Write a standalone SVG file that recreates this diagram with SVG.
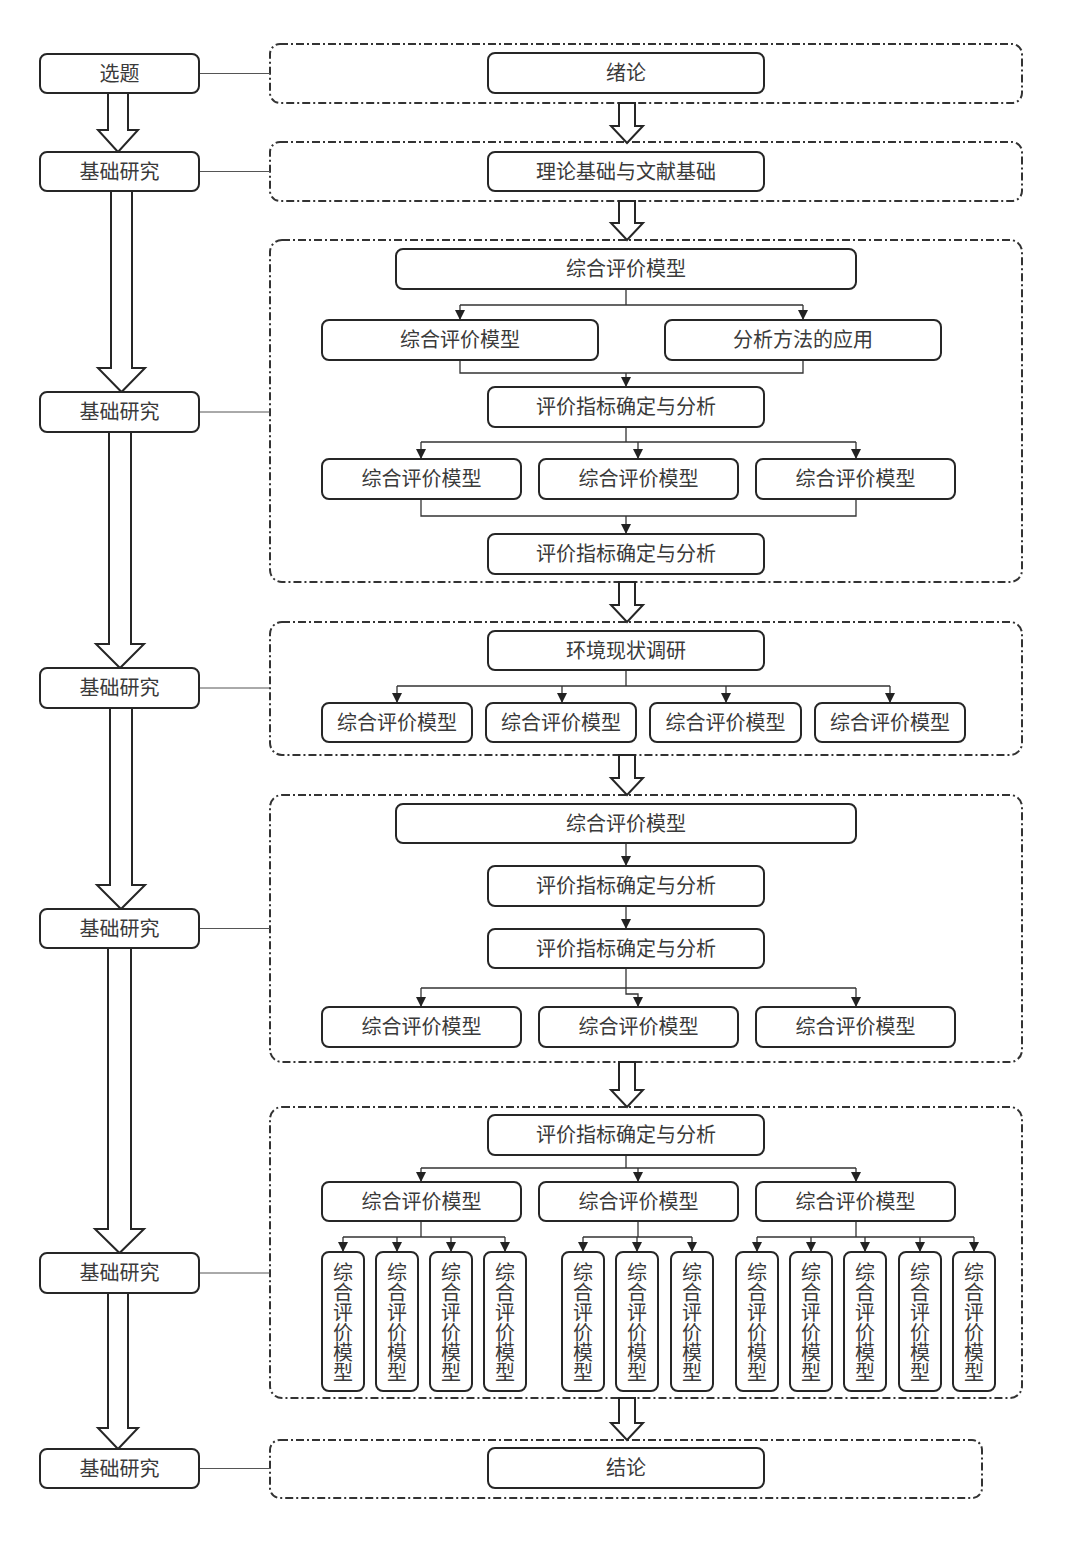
<svg xmlns="http://www.w3.org/2000/svg" width="1080" height="1559" viewBox="0 0 1080 1559">
<defs>
<style>
.box{fill:#fff;stroke:#262626;stroke-width:2;}
.frame{fill:none;stroke:#333;stroke-width:2;stroke-dasharray:8 3 2 3;}
.t{font-family:"Liberation Serif","Noto Sans CJK SC",serif;font-size:20px;fill:#3a3a3a;text-anchor:middle;dominant-baseline:central;}
.c{fill:none;stroke:#333;stroke-width:1.3;}
.link{fill:none;stroke:#555;stroke-width:1;}
.ha{fill:#fff;stroke:#262626;stroke-width:2;stroke-linejoin:miter;}
</style>
<marker id="ah" viewBox="0 0 10 10" refX="10" refY="5" markerWidth="11" markerHeight="10" markerUnits="userSpaceOnUse" orient="auto">
<path d="M0,0 L10,5 L0,10 Z" fill="#222"/>
</marker>
</defs>
<rect width="1080" height="1559" fill="#fff"/>

<g id="frames">
<rect class="frame" x="270" y="44" width="752" height="59" rx="10"/>
<rect class="frame" x="270" y="142" width="752" height="59" rx="10"/>
<rect class="frame" x="270" y="240" width="752" height="342" rx="12"/>
<rect class="frame" x="270" y="622" width="752" height="133" rx="12"/>
<rect class="frame" x="270" y="795" width="752" height="267" rx="12"/>
<rect class="frame" x="270" y="1107" width="752" height="291" rx="12"/>
<rect class="frame" x="270" y="1440" width="712" height="58" rx="10"/>
</g>

<g id="connectors">
<path class="link" d="M199,73.5 H270 M199,171.5 H270 M199,412 H270 M199,688 H270 M199,928.5 H270 M199,1273 H270 M199,1468.5 H270"/>
<path class="ha" d="M108,93 V130 H98 L118,152 L138,130 H128 V93 Z"/>
<path class="ha" d="M111,191 V368 H98 L121.5,392 L145,368 H132 V191 Z"/>
<path class="ha" d="M109,432 V644 H96 L120,668 L144,644 H131 V432 Z"/>
<path class="ha" d="M110,708 V885 H97 L121,909 L145,885 H132 V708 Z"/>
<path class="ha" d="M108,948 V1229 H95 L119.5,1253 L144,1229 H131 V948 Z"/>
<path class="ha" d="M108,1293 V1428 H98 L118,1449 L138,1428 H128 V1293 Z"/>
<path class="ha" d="M619,103 V126 H611 L627,143 L643,126 H635 V103 Z"/>
<path class="ha" d="M619,201 V223 H611 L627,240 L643,223 H635 V201 Z"/>
<path class="ha" d="M619,582 V605 H611 L627,622 L643,605 H635 V582 Z"/>
<path class="ha" d="M619,755 V778 H611 L627,795 L643,778 H635 V755 Z"/>
<path class="ha" d="M619,1062 V1090 H611 L627,1107 L643,1090 H635 V1062 Z"/>
<path class="ha" d="M619,1398 V1423 H611 L627,1440 L643,1423 H635 V1398 Z"/>

<path class="c" d="M626,289 V305 M460,305 H803"/>
<path class="c" d="M460,305 V320" marker-end="url(#ah)"/>
<path class="c" d="M803,305 V320" marker-end="url(#ah)"/>
<path class="c" d="M460,360 V373 H803 V360"/>
<path class="c" d="M626,373 V387" marker-end="url(#ah)"/>
<path class="c" d="M626,427 V442 M421,442 H856"/>
<path class="c" d="M421,442 V459" marker-end="url(#ah)"/>
<path class="c" d="M638,442 V459" marker-end="url(#ah)"/>
<path class="c" d="M856,442 V459" marker-end="url(#ah)"/>
<path class="c" d="M421,499 V516 H856 V499"/>
<path class="c" d="M626,516 V534" marker-end="url(#ah)"/>

<path class="c" d="M626,670 V686 M397,686 H890"/>
<path class="c" d="M397,686 V703" marker-end="url(#ah)"/>
<path class="c" d="M562,686 V703" marker-end="url(#ah)"/>
<path class="c" d="M726,686 V703" marker-end="url(#ah)"/>
<path class="c" d="M890,686 V703" marker-end="url(#ah)"/>

<path class="c" d="M626,843 V866" marker-end="url(#ah)"/>
<path class="c" d="M626,906 V929" marker-end="url(#ah)"/>
<path class="c" d="M421,988 H856"/>
<path class="c" d="M421,988 V1007" marker-end="url(#ah)"/>
<path class="c" d="M856,988 V1007" marker-end="url(#ah)"/>
<path class="c" d="M626,968 V994 H638 V1007" marker-end="url(#ah)"/>

<path class="c" d="M626,1155 V1168 M421,1168 H856"/>
<path class="c" d="M421,1168 V1182" marker-end="url(#ah)"/>
<path class="c" d="M638,1168 V1182" marker-end="url(#ah)"/>
<path class="c" d="M856,1168 V1182" marker-end="url(#ah)"/>
<path class="c" d="M421,1221 V1237 M343,1237 H505"/>
<path class="c" d="M343,1237 V1252" marker-end="url(#ah)"/>
<path class="c" d="M397,1237 V1252" marker-end="url(#ah)"/>
<path class="c" d="M451,1237 V1252" marker-end="url(#ah)"/>
<path class="c" d="M505,1237 V1252" marker-end="url(#ah)"/>
<path class="c" d="M638,1221 V1237 M583,1237 H692"/>
<path class="c" d="M583,1237 V1252" marker-end="url(#ah)"/>
<path class="c" d="M637,1237 V1252" marker-end="url(#ah)"/>
<path class="c" d="M692,1237 V1252" marker-end="url(#ah)"/>
<path class="c" d="M856,1221 V1237 M757,1237 H974"/>
<path class="c" d="M757,1237 V1252" marker-end="url(#ah)"/>
<path class="c" d="M811,1237 V1252" marker-end="url(#ah)"/>
<path class="c" d="M865,1237 V1252" marker-end="url(#ah)"/>
<path class="c" d="M920,1237 V1252" marker-end="url(#ah)"/>
<path class="c" d="M974,1237 V1252" marker-end="url(#ah)"/>
</g>

<g id="L1"><rect class="box" x="40" y="54" width="159" height="39" rx="7"/><text class="t" x="119.5" y="73.5">选题</text></g>
<g id="L2"><rect class="box" x="40" y="152" width="159" height="39" rx="7"/><text class="t" x="119.5" y="171.5">基础研究</text></g>
<g id="L3"><rect class="box" x="40" y="392" width="159" height="40" rx="7"/><text class="t" x="119.5" y="412">基础研究</text></g>
<g id="L4"><rect class="box" x="40" y="668" width="159" height="40" rx="7"/><text class="t" x="119.5" y="688">基础研究</text></g>
<g id="L5"><rect class="box" x="40" y="909" width="159" height="39" rx="7"/><text class="t" x="119.5" y="928.5">基础研究</text></g>
<g id="L6"><rect class="box" x="40" y="1253" width="159" height="40" rx="7"/><text class="t" x="119.5" y="1273">基础研究</text></g>
<g id="L7"><rect class="box" x="40" y="1449" width="159" height="39" rx="7"/><text class="t" x="119.5" y="1468.5">基础研究</text></g>

<g id="n_xulun"><rect class="box" x="488" y="53" width="276" height="40" rx="7"/><text class="t" x="626" y="73">绪论</text></g>
<g id="n_lilun"><rect class="box" x="488" y="152" width="276" height="39" rx="7"/><text class="t" x="626" y="171.5">理论基础与文献基础</text></g>

<g id="n3_top"><rect class="box" x="396" y="249" width="460" height="40" rx="7"/><text class="t" x="626" y="269">综合评价模型</text></g>
<g id="n3_a"><rect class="box" x="322" y="320" width="276" height="40" rx="7"/><text class="t" x="460" y="340">综合评价模型</text></g>
<g id="n3_b"><rect class="box" x="665" y="320" width="276" height="40" rx="7"/><text class="t" x="803" y="340">分析方法的应用</text></g>
<g id="n3_mid"><rect class="box" x="488" y="387" width="276" height="40" rx="7"/><text class="t" x="626" y="407">评价指标确定与分析</text></g>
<g id="n3_c1"><rect class="box" x="322" y="459" width="199" height="40" rx="7"/><text class="t" x="421.5" y="479">综合评价模型</text></g>
<g id="n3_c2"><rect class="box" x="539" y="459" width="199" height="40" rx="7"/><text class="t" x="638.5" y="479">综合评价模型</text></g>
<g id="n3_c3"><rect class="box" x="756" y="459" width="199" height="40" rx="7"/><text class="t" x="855.5" y="479">综合评价模型</text></g>
<g id="n3_bot"><rect class="box" x="488" y="534" width="276" height="40" rx="7"/><text class="t" x="626" y="554">评价指标确定与分析</text></g>

<g id="n4_top"><rect class="box" x="488" y="631" width="276" height="39" rx="7"/><text class="t" x="626" y="650.5">环境现状调研</text></g>
<g id="n4_1"><rect class="box" x="322" y="703" width="150" height="39" rx="7"/><text class="t" x="397" y="722.5">综合评价模型</text></g>
<g id="n4_2"><rect class="box" x="486" y="703" width="150" height="39" rx="7"/><text class="t" x="561" y="722.5">综合评价模型</text></g>
<g id="n4_3"><rect class="box" x="650" y="703" width="151" height="39" rx="7"/><text class="t" x="725.5" y="722.5">综合评价模型</text></g>
<g id="n4_4"><rect class="box" x="815" y="703" width="150" height="39" rx="7"/><text class="t" x="890" y="722.5">综合评价模型</text></g>

<g id="n5_top"><rect class="box" x="396" y="804" width="460" height="39" rx="7"/><text class="t" x="626" y="823.5">综合评价模型</text></g>
<g id="n5_a"><rect class="box" x="488" y="866" width="276" height="40" rx="7"/><text class="t" x="626" y="886">评价指标确定与分析</text></g>
<g id="n5_b"><rect class="box" x="488" y="929" width="276" height="39" rx="7"/><text class="t" x="626" y="948.5">评价指标确定与分析</text></g>
<g id="n5_c1"><rect class="box" x="322" y="1007" width="199" height="40" rx="7"/><text class="t" x="421.5" y="1027">综合评价模型</text></g>
<g id="n5_c2"><rect class="box" x="539" y="1007" width="199" height="40" rx="7"/><text class="t" x="638.5" y="1027">综合评价模型</text></g>
<g id="n5_c3"><rect class="box" x="756" y="1007" width="199" height="40" rx="7"/><text class="t" x="855.5" y="1027">综合评价模型</text></g>

<g id="n6_top"><rect class="box" x="488" y="1115" width="276" height="40" rx="7"/><text class="t" x="626" y="1135">评价指标确定与分析</text></g>
<g id="n6_c1"><rect class="box" x="322" y="1182" width="199" height="39" rx="7"/><text class="t" x="421.5" y="1201.5">综合评价模型</text></g>
<g id="n6_c2"><rect class="box" x="539" y="1182" width="199" height="39" rx="7"/><text class="t" x="638.5" y="1201.5">综合评价模型</text></g>
<g id="n6_c3"><rect class="box" x="756" y="1182" width="199" height="39" rx="7"/><text class="t" x="855.5" y="1201.5">综合评价模型</text></g>

<g id="v1"><rect class="box" x="322" y="1252" width="42" height="139" rx="7"/><text class="t" x="343" y="1273">综<tspan x="343" dy="20">合</tspan><tspan x="343" dy="20">评</tspan><tspan x="343" dy="20">价</tspan><tspan x="343" dy="20">模</tspan><tspan x="343" dy="20">型</tspan></text></g>
<g id="v2"><rect class="box" x="376" y="1252" width="42" height="139" rx="7"/><text class="t" x="397" y="1273">综<tspan x="397" dy="20">合</tspan><tspan x="397" dy="20">评</tspan><tspan x="397" dy="20">价</tspan><tspan x="397" dy="20">模</tspan><tspan x="397" dy="20">型</tspan></text></g>
<g id="v3"><rect class="box" x="430" y="1252" width="42" height="139" rx="7"/><text class="t" x="451" y="1273">综<tspan x="451" dy="20">合</tspan><tspan x="451" dy="20">评</tspan><tspan x="451" dy="20">价</tspan><tspan x="451" dy="20">模</tspan><tspan x="451" dy="20">型</tspan></text></g>
<g id="v4"><rect class="box" x="484" y="1252" width="42" height="139" rx="7"/><text class="t" x="505" y="1273">综<tspan x="505" dy="20">合</tspan><tspan x="505" dy="20">评</tspan><tspan x="505" dy="20">价</tspan><tspan x="505" dy="20">模</tspan><tspan x="505" dy="20">型</tspan></text></g>
<g id="v5"><rect class="box" x="562" y="1252" width="42" height="139" rx="7"/><text class="t" x="583" y="1273">综<tspan x="583" dy="20">合</tspan><tspan x="583" dy="20">评</tspan><tspan x="583" dy="20">价</tspan><tspan x="583" dy="20">模</tspan><tspan x="583" dy="20">型</tspan></text></g>
<g id="v6"><rect class="box" x="616" y="1252" width="42" height="139" rx="7"/><text class="t" x="637" y="1273">综<tspan x="637" dy="20">合</tspan><tspan x="637" dy="20">评</tspan><tspan x="637" dy="20">价</tspan><tspan x="637" dy="20">模</tspan><tspan x="637" dy="20">型</tspan></text></g>
<g id="v7"><rect class="box" x="671" y="1252" width="42" height="139" rx="7"/><text class="t" x="692" y="1273">综<tspan x="692" dy="20">合</tspan><tspan x="692" dy="20">评</tspan><tspan x="692" dy="20">价</tspan><tspan x="692" dy="20">模</tspan><tspan x="692" dy="20">型</tspan></text></g>
<g id="v8"><rect class="box" x="736" y="1252" width="42" height="139" rx="7"/><text class="t" x="757" y="1273">综<tspan x="757" dy="20">合</tspan><tspan x="757" dy="20">评</tspan><tspan x="757" dy="20">价</tspan><tspan x="757" dy="20">模</tspan><tspan x="757" dy="20">型</tspan></text></g>
<g id="v9"><rect class="box" x="790" y="1252" width="42" height="139" rx="7"/><text class="t" x="811" y="1273">综<tspan x="811" dy="20">合</tspan><tspan x="811" dy="20">评</tspan><tspan x="811" dy="20">价</tspan><tspan x="811" dy="20">模</tspan><tspan x="811" dy="20">型</tspan></text></g>
<g id="v10"><rect class="box" x="844" y="1252" width="42" height="139" rx="7"/><text class="t" x="865" y="1273">综<tspan x="865" dy="20">合</tspan><tspan x="865" dy="20">评</tspan><tspan x="865" dy="20">价</tspan><tspan x="865" dy="20">模</tspan><tspan x="865" dy="20">型</tspan></text></g>
<g id="v11"><rect class="box" x="899" y="1252" width="42" height="139" rx="7"/><text class="t" x="920" y="1273">综<tspan x="920" dy="20">合</tspan><tspan x="920" dy="20">评</tspan><tspan x="920" dy="20">价</tspan><tspan x="920" dy="20">模</tspan><tspan x="920" dy="20">型</tspan></text></g>
<g id="v12"><rect class="box" x="953" y="1252" width="42" height="139" rx="7"/><text class="t" x="974" y="1273">综<tspan x="974" dy="20">合</tspan><tspan x="974" dy="20">评</tspan><tspan x="974" dy="20">价</tspan><tspan x="974" dy="20">模</tspan><tspan x="974" dy="20">型</tspan></text></g>

<g id="n_jielun"><rect class="box" x="488" y="1448" width="276" height="40" rx="7"/><text class="t" x="626" y="1468">结论</text></g>
</svg>
